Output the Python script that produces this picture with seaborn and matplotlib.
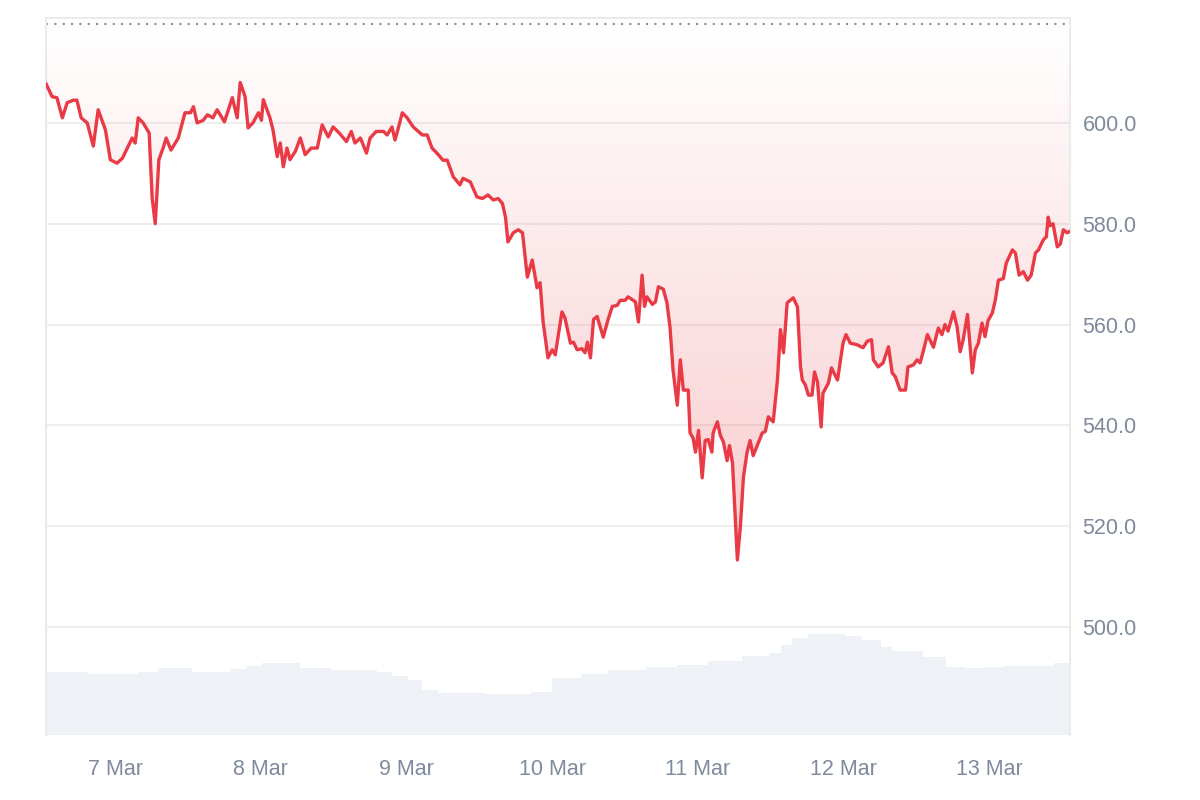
import numpy as np
import pandas as pd
import matplotlib
matplotlib.use("Agg")
import matplotlib.pyplot as plt
import matplotlib.dates as mdates
from matplotlib.patches import Polygon
from matplotlib.colors import to_rgb
import seaborn as sns

START = pd.Timestamp("2025-03-07 00:00")

# ---- price: hours after 7 Mar 00:00 / price (USD) ----
price_hours = [
    -11.4, -10.4, -9.6, -8.7, -7.9, -6.9, -6.3, -5.6, -4.6, -3.6, -2.8, -1.6, -0.8,
    0.3, 1.2, 2.0, 2.8, 3.3, 3.8, 4.6, 5.6, 6.1, 6.6, 7.2, 7.9, 8.4, 9.2, 10.4, 11.5,
    12.4, 12.9, 13.5, 14.5, 15.2, 16.1, 16.8, 18.0, 19.3, 20.1, 20.6, 21.4, 21.9, 22.7, 23.6,
    24.1, 24.4, 25.5, 26.0, 26.7, 27.2, 27.7, 28.3, 28.8, 29.7, 30.5, 31.3, 32.3, 33.3, 34.1,
    35.1, 35.9, 36.9, 38.1, 38.9, 39.5, 40.4, 41.4, 42.0, 43.0, 44.2, 44.8, 45.6, 46.1, 46.5, 47.3,
    48.1, 49.1, 50.6, 51.4, 52.2, 53.0, 54.0, 54.7, 55.7, 56.8, 57.3, 58.5, 59.6, 60.5, 61.4,
    62.3, 63.1, 63.8, 64.3, 64.7, 65.6, 66.4, 67.1, 67.9, 68.7, 69.5, 70.0, 70.5, 71.3,
    72.0, 72.5, 73.6, 74.1, 75.0, 75.5, 76.1, 76.9, 77.4, 77.8, 78.3, 78.8, 79.4, 80.4, 81.2,
    81.9, 82.7, 83.2, 84.0, 84.5, 85.7, 86.2, 86.8, 87.2, 87.6, 88.5, 89.0, 89.5, 90.3, 90.9,
    91.4, 91.9, 92.6, 93.1, 93.6, 94.4, 94.7, 95.2, 95.6,
    96.1, 96.7, 97.2, 97.7, 98.3, 98.5, 99.2, 99.7, 100.2, 100.8, 101.2, 101.7, 102.5, 103.0,
    103.5, 104.1, 104.6, 105.1, 105.9, 106.6, 107.1, 107.6, 108.4, 109.1, 109.6, 110.1, 110.7,
    111.7, 112.4, 112.9, 113.2, 113.7, 114.2, 114.8, 115.2, 115.7, 116.3, 116.6, 117.5, 118.0, 119.0,
    119.9, 120.4, 121.1, 122.2, 123.2, 123.9, 124.6, 124.9, 125.7, 126.5, 127.4, 128.0, 128.5,
    129.3, 130.2, 130.6, 131.5, 132.1, 132.6, 133.1, 133.8, 134.8, 135.6, 136.2, 136.7, 137.2,
    138.1, 138.7, 139.2, 139.7, 140.4, 141.2, 141.7, 142.2, 142.8, 143.3, 143.8,
    144.5, 145.0, 145.5, 146.3, 146.8, 147.8, 148.3, 148.9, 149.6, 150.3, 150.9, 151.6, 152.1,
    152.9, 153.4, 153.7, 154.0, 154.5, 155.2, 155.7, 156.2, 156.8, 157.3,
]
price_usd = [
    607.8, 605.2, 605.0, 601.0, 604.0, 604.5, 604.5, 601.0, 600.0, 595.4, 602.6, 598.6, 592.7,
    592.0, 593.0, 595.0, 597.0, 596.0, 601.0, 600.0, 598.0, 585.0, 580.0, 592.7, 595.0, 597.0, 594.6, 597.0, 602.0,
    602.0, 603.2, 600.0, 600.5, 601.6, 601.0, 602.6, 600.2, 605.0, 601.0, 608.0, 605.2, 599.0, 600.0, 602.0,
    600.5, 604.6, 601.0, 598.6, 593.3, 596.0, 591.3, 595.0, 592.7, 594.4, 597.0, 593.7, 595.0, 595.0, 599.6,
    597.2, 599.2, 598.0, 596.3, 598.3, 596.0, 597.0, 594.0, 597.0, 598.3, 598.3, 597.6, 599.2, 596.6, 598.3, 602.0,
    601.0, 599.2, 597.6, 597.6, 595.0, 594.0, 592.6, 592.6, 589.3, 587.7, 589.0, 588.3, 585.3, 585.0, 585.7,
    584.7, 585.0, 584.0, 581.3, 576.4, 578.2, 578.8, 578.2, 569.4, 572.8, 567.3, 568.3, 560.5, 553.4,
    555.0, 554.0, 562.5, 561.3, 556.3, 556.5, 555.0, 555.2, 554.4, 556.5, 553.4, 561.0, 561.6, 557.5, 561.0,
    563.6, 563.8, 564.8, 564.8, 565.5, 564.5, 560.5, 569.8, 563.6, 565.5, 564.0, 564.5, 567.5, 567.0, 564.3,
    559.5, 551.0, 544.0, 553.0, 547.0, 547.0, 538.5, 537.5, 534.7,
    539.0, 529.6, 537.0, 537.2, 534.7, 538.5, 540.7, 538.0, 536.7, 533.0, 536.0, 532.5, 513.3, 520.0,
    529.8, 534.7, 537.0, 534.0, 536.4, 538.5, 538.8, 541.7, 540.7, 549.0, 559.0, 554.4, 564.3,
    565.3, 563.5, 551.6, 549.0, 548.0, 546.0, 546.0, 550.6, 548.6, 539.7, 546.4, 548.4, 551.4, 549.0,
    556.3, 558.0, 556.3, 556.0, 555.4, 556.7, 557.0, 553.0, 551.6, 552.4, 555.6, 550.4, 549.7,
    547.0, 547.0, 551.6, 552.0, 553.0, 552.4, 554.6, 558.0, 555.5, 559.3, 558.0, 560.0, 558.7,
    562.5, 559.5, 554.6, 557.0, 562.0, 550.4, 555.0, 556.3, 560.3, 557.6, 560.8,
    562.3, 564.9, 568.8, 569.1, 572.2, 574.8, 574.2, 569.8, 570.5, 568.8, 569.8, 574.2, 574.8,
    576.8, 577.4, 581.3, 579.6, 580.0, 575.4, 576.0, 578.8, 578.2, 578.5,
]

# ---- 24h volume (billions), step starts in hours after 7 Mar 00:00 ----
vol_hours = [-11.4, -4.4, 3.8, 7.1, 12.7, 19.1, 21.6, 24.2, 30.5, 35.6, 43.2, 45.6, 48.3,
             50.6, 53.2, 61.0, 68.5, 72.0, 76.8, 81.2, 87.5, 92.6, 97.7, 103.3, 107.7,
             109.7, 111.5, 114.2, 120.4, 123.1, 126.2, 128.0, 133.1, 136.9, 140.0, 143.3,
             146.5, 154.7, 157.3]
vol_bn = [1.06, 1.02, 1.06, 1.12, 1.06, 1.10, 1.16, 1.20, 1.12, 1.09, 1.06, 0.99, 0.92,
          0.75, 0.71, 0.69, 0.72, 0.95, 1.02, 1.09, 1.13, 1.17, 1.23, 1.32, 1.37,
          1.51, 1.62, 1.69, 1.66, 1.59, 1.48, 1.41, 1.31, 1.14, 1.12, 1.14,
          1.16, 1.20, 1.20]

Y_TICKS = [500, 520, 540, 560, 580, 600]
Y_MIN, Y_MAX = 478.6, 620.8
REF_LEVEL = 619.6
X_MIN_H, X_MAX_H = -11.4, 157.3
VOL_TOP = 12.0

RED = "#e93a45"
VOL_C = "#eef1f5"
GRID_C = "#eeeeee"
FRAME_C = "#ebebeb"
TXT_C = "#808a9d"

df = pd.DataFrame({"time": START + pd.to_timedelta(price_hours, unit="h"),
                   "price": price_usd})
dv = pd.DataFrame({"time": START + pd.to_timedelta(vol_hours, unit="h"),
                   "vol": vol_bn})

sns.set_theme(style="white")
plt.rcParams["font.family"] = ["Liberation Sans", "DejaVu Sans"]

fig = plt.figure(figsize=(12, 8), dpi=100)
ax = fig.add_axes([0.0383, 0.0813, 0.8534, 0.8962])

# volume on twin axis, kept under the price axis
ax_v = ax.twinx()
ax_v.fill_between(dv["time"], dv["vol"], step="post", color=VOL_C, lw=0)
ax_v.set_ylim(0, VOL_TOP)
ax_v.set_yticks([])
for s in ax_v.spines.values():
    s.set_visible(False)
ax.set_zorder(ax_v.get_zorder() + 1)
ax.patch.set_visible(False)

# gradient fill between line and top
tnum = mdates.date2num(df["time"])
pr = np.asarray(price_usd)
verts = np.column_stack([np.r_[tnum, tnum[-1], tnum[0]], np.r_[pr, Y_MAX, Y_MAX]])
clip = Polygon(verts, closed=True, transform=ax.transData, fc="none", ec="none")
ax.add_patch(clip)
r, g, b = to_rgb(RED)
grad = np.zeros((256, 1, 4))
grad[:, 0, 0], grad[:, 0, 1], grad[:, 0, 2] = r, g, b
grad[:, 0, 3] = np.linspace(0.26, 0.0, 256)
im = ax.imshow(grad, extent=[tnum[0], tnum[-1], pr.min(), Y_MAX], origin="lower",
               aspect="auto", zorder=1, interpolation="bilinear")
im.set_clip_path(clip)

sns.lineplot(data=df, x="time", y="price", ax=ax, color=RED, lw=2.4, zorder=3)

ax.axhline(REF_LEVEL, color="#8f8f8f", lw=1.5, ls=(0, (1, 3)), zorder=2)

ax.set_ylim(Y_MIN, Y_MAX)
ax.set_xlim(START + pd.Timedelta(hours=X_MIN_H), START + pd.Timedelta(hours=X_MAX_H))
ax.set_yticks(Y_TICKS)
ax.set_yticklabels([f"{v:.1f}" for v in Y_TICKS])
ax.yaxis.tick_right()
ax.yaxis.grid(True, color=GRID_C, lw=1.5, zorder=0)
ax.set_axisbelow(True)
ax.xaxis.set_major_locator(mdates.DayLocator())
ax.xaxis.set_major_formatter(mdates.DateFormatter("%-d %b"))
ax.tick_params(axis="y", length=0, pad=9, labelsize=15.5, labelcolor=TXT_C)
ax.tick_params(axis="x", length=0, pad=17, labelsize=15.5, labelcolor=TXT_C)
ax.set_xlabel("")
ax.set_ylabel("")

for side in ["left", "top", "right"]:
    ax.spines[side].set_color(FRAME_C)
    ax.spines[side].set_linewidth(1.5)
ax.spines["bottom"].set_visible(False)

fig.savefig("out.png", dpi=100, facecolor="white")
